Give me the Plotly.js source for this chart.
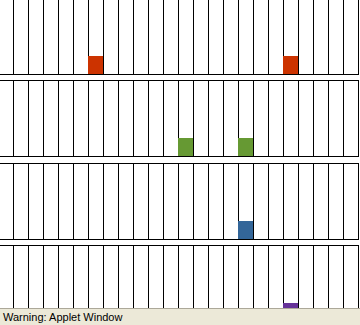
<!DOCTYPE html>
<html>
<head>
<meta charset="utf-8">
<script src="https://cdn.plot.ly/plotly-3.0.1.min.js"></script>
<style>
html, body { margin: 0; padding: 0; background: #ffffff; }
#chart { width: 360px; height: 325px; }
</style>
</head>
<body>
<div id="chart"></div>
<script>
// Hour slots (24 per row)
const hours = [0,1,2,3,4,5,6,7,8,9,10,11,12,13,14,15,16,17,18,19,20,21,22,23];

// Row 1 (red)
const row1Hours = [6, 19];
const row1Values = [1, 1];
// Row 2 (green)
const row2Hours = [12, 16];
const row2Values = [1, 1];
// Row 3 (blue)
const row3Hours = [16];
const row3Values = [1];
// Row 4 (purple)
const row4Hours = [19];
const row4Values = [1];

const rowColors = ['#CC3300', '#669933', '#336699', '#663399'];
const statusText = 'Warning: Applet Window';

const rows = [
  {x: row1Hours, y: row1Values},
  {x: row2Hours, y: row2Values},
  {x: row3Hours, y: row3Values},
  {x: row4Hours, y: row4Values}
];

const H = 325;
// pixel extents of each row band [top, bottom]
const bands = [[0, 74], [81, 156], [164, 239], [246, 321]];
const barPx = 18;

const traces = rows.map((r, i) => ({
  type: 'bar',
  x: r.x,
  y: r.y,
  width: 1,
  marker: {color: rowColors[i], line: {width: 0}},
  xaxis: i === 0 ? 'x' : 'x' + (i + 1),
  yaxis: i === 0 ? 'y' : 'y' + (i + 1),
  hoverinfo: 'skip',
  showlegend: false
}));

const layout = {
  width: 360,
  height: 325,
  margin: {l: 0, r: 2, t: 0, b: 0, pad: 0},
  paper_bgcolor: '#ffffff',
  plot_bgcolor: '#ffffff',
  showlegend: false,
  bargap: 0,
  shapes: [
    {type: 'rect', xref: 'paper', yref: 'paper', x0: -0.01, x1: 1.02,
     y0: -0.01, y1: 1 - 308 / H, fillcolor: '#ECE9D8', line: {width: 0}, layer: 'above'},
    {type: 'line', xref: 'paper', yref: 'paper', x0: -0.01, x1: 1.02,
     y0: 1 - 308.5 / H, y1: 1 - 308.5 / H, line: {color: '#ACA899', width: 1}, layer: 'above'}
  ],
  annotations: [
    {text: statusText, xref: 'paper', yref: 'paper', x: 0, xshift: 1,
     y: 1 - 316.5 / H, xanchor: 'left', yanchor: 'middle', showarrow: false,
     font: {family: 'Liberation Sans, Arial, sans-serif', size: 11, color: '#000000'}}
  ]
};

bands.forEach((b, i) => {
  const xa = i === 0 ? 'xaxis' : 'xaxis' + (i + 1);
  const ya = i === 0 ? 'yaxis' : 'yaxis' + (i + 1);
  const yid = i === 0 ? 'y' : 'y' + (i + 1);
  const xid = i === 0 ? 'x' : 'x' + (i + 1);
  layout[xa] = {
    domain: [0, 1],
    anchor: yid,
    range: [-5.5 / 15, 23.5],
    tick0: 0.5,
    dtick: 1,
    showgrid: true,
    gridcolor: '#000000',
    gridwidth: 1,
    zeroline: false,
    showticklabels: false,
    ticks: '',
    showline: true,
    linecolor: '#000000',
    linewidth: 1,
    mirror: i === 0 ? false : true,
    fixedrange: true
  };
  layout[ya] = {
    domain: [1 - b[1] / H, 1 - b[0] / H],
    anchor: xid,
    range: [0, (b[1] - b[0]) / barPx],
    side: 'right',
    showgrid: false,
    zeroline: false,
    showticklabels: false,
    ticks: '',
    showline: true,
    linecolor: '#000000',
    linewidth: 1,
    fixedrange: true
  };
});

Plotly.newPlot('chart', traces, layout, {displayModeBar: false, staticPlot: true});
</script>
</body>
</html>
